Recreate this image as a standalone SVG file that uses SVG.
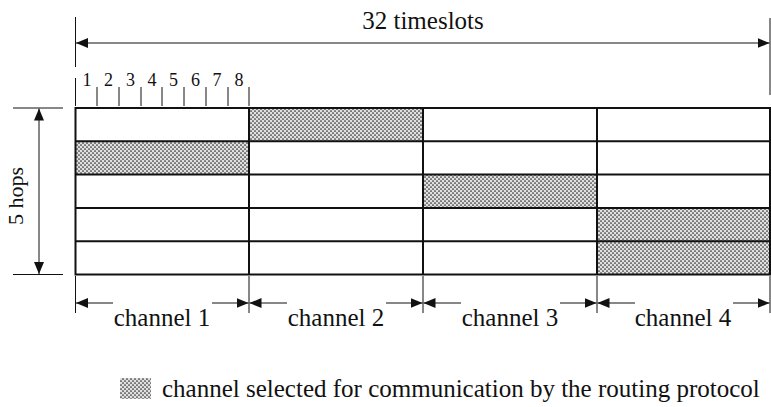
<svg xmlns="http://www.w3.org/2000/svg" width="771" height="407" viewBox="0 0 771 407">
  <style>
    text { font-family: "Liberation Serif", "Times New Roman", serif; fill: #111; }
    .big { font-size: 25px; }
    .num { font-size: 18px; }
    .thin { stroke: #111; stroke-width: 1; fill: none; }
    .grid { stroke: #111; stroke-width: 2; fill: none; }
    .cell { fill: #fff; }
    .sel { fill: url(#dots); }
  </style>
  <defs>
    <pattern id="dots" width="4" height="4" patternUnits="userSpaceOnUse">
      <rect width="4" height="4" fill="#e0e0e0"/>
      <circle cx="1" cy="1" r="0.85" fill="#2a2a2a"/>
      <circle cx="3" cy="3" r="0.85" fill="#2a2a2a"/>
    </pattern>
    <marker id="head" viewBox="0 0 12 10" refX="12" refY="5" markerWidth="12" markerHeight="10" markerUnits="userSpaceOnUse" orient="auto-start-reverse">
      <path d="M0,0 L12,5 L0,10 Z" fill="#111"/>
    </marker>
  </defs>

  <!-- title dimension: 32 timeslots -->
  <g id="timeslots">
    <text class="big" x="423" y="29" text-anchor="middle">32 timeslots</text>
  </g>

  <!-- timeslot ticks and numbers -->
  <g id="slots">
    <g class="thin">
      <line x1="75.5" y1="78" x2="75.5" y2="106"/>
      <line x1="97" y1="87" x2="97" y2="106"/>
      <line x1="119" y1="87" x2="119" y2="106"/>
      <line x1="141" y1="87" x2="141" y2="106"/>
      <line x1="162" y1="87" x2="162" y2="106"/>
      <line x1="184" y1="87" x2="184" y2="106"/>
      <line x1="206" y1="87" x2="206" y2="106"/>
      <line x1="228" y1="87" x2="228" y2="106"/>
      <line x1="249" y1="87" x2="249" y2="106"/>
    </g>
    <g class="num" text-anchor="middle">
      <text x="87" y="86">1</text>
      <text x="108.5" y="86">2</text>
      <text x="130.5" y="86">3</text>
      <text x="152" y="86">4</text>
      <text x="173.5" y="86">5</text>
      <text x="195.5" y="86">6</text>
      <text x="217" y="86">7</text>
      <text x="239" y="86">8</text>
    </g>
  </g>

  <!-- hop dimension -->
  <g id="hops">
    <text class="big" style="font-size:22px" transform="translate(23,196) rotate(-90)" text-anchor="middle">5 hops</text>
  </g>

  <!-- channel grid: 5 hops x 4 channels -->
  <g id="grid">
    <rect class="cell" x="75.5" y="108" width="694.5" height="166.5"/>
    <rect class="sel" x="249" y="108" width="174" height="33.3"/>
    <rect class="sel" x="75.5" y="141.3" width="173.5" height="33.3"/>
    <rect class="sel" x="423" y="174.6" width="174" height="33.3"/>
    <rect class="sel" x="597" y="207.9" width="173" height="33.3"/>
    <rect class="sel" x="597" y="241.2" width="173" height="33.3"/>
    <g class="grid">
      <rect x="75.5" y="108" width="694.5" height="166.5"/>
      <line x1="75.5" y1="141.3" x2="770" y2="141.3"/>
      <line x1="75.5" y1="174.6" x2="770" y2="174.6"/>
      <line x1="75.5" y1="207.9" x2="770" y2="207.9"/>
      <line x1="75.5" y1="241.2" x2="770" y2="241.2"/>
      <line x1="249" y1="108" x2="249" y2="274.5"/>
      <line x1="423" y1="108" x2="423" y2="274.5"/>
      <line x1="597" y1="108" x2="597" y2="274.5"/>
    </g>
  </g>

  <!-- channel labels -->
  <g id="channel1"><text class="big" x="162" y="326" text-anchor="middle">channel 1</text></g>
  <g id="channel2"><text class="big" x="336" y="326" text-anchor="middle">channel 2</text></g>
  <g id="channel3"><text class="big" x="510" y="326" text-anchor="middle">channel 3</text></g>
  <g id="channel4"><text class="big" x="683" y="326" text-anchor="middle">channel 4</text></g>

  <!-- legend -->
  <g id="legend">
    <rect class="sel" x="120" y="378" width="31" height="21"/>
    <text class="big" x="162" y="397">channel selected for communication by the routing protocol</text>
  </g>

  <!-- dimension lines and arrows -->
  <g id="connectors">
    <g class="thin">
      <line x1="75.5" y1="17" x2="75.5" y2="67"/>
      <line x1="770" y1="18" x2="770" y2="95"/>
      <line x1="13" y1="108" x2="63" y2="108"/>
      <line x1="13" y1="274.5" x2="63" y2="274.5"/>
      <line x1="75.5" y1="276" x2="75.5" y2="313"/>
      <line x1="249" y1="276" x2="249" y2="313"/>
      <line x1="423" y1="276" x2="423" y2="313"/>
      <line x1="597" y1="276" x2="597" y2="313"/>
      <line x1="770" y1="276" x2="770" y2="313"/>
    </g>
    <g class="thin" marker-end="url(#head)">
      <line x1="420" y1="43" x2="76" y2="43"/>
      <line x1="420" y1="43" x2="769.5" y2="43"/>
      <line x1="39" y1="190" x2="39" y2="108.5"/>
      <line x1="39" y1="190" x2="39" y2="274"/>
      <line x1="113" y1="303" x2="76" y2="303"/>
      <line x1="212" y1="303" x2="248.5" y2="303"/>
      <line x1="287" y1="303" x2="249.5" y2="303"/>
      <line x1="386" y1="303" x2="422.5" y2="303"/>
      <line x1="461" y1="303" x2="423.5" y2="303"/>
      <line x1="560" y1="303" x2="596.5" y2="303"/>
      <line x1="635" y1="303" x2="597.5" y2="303"/>
      <line x1="733" y1="303" x2="769.5" y2="303"/>
    </g>
  </g>
</svg>
